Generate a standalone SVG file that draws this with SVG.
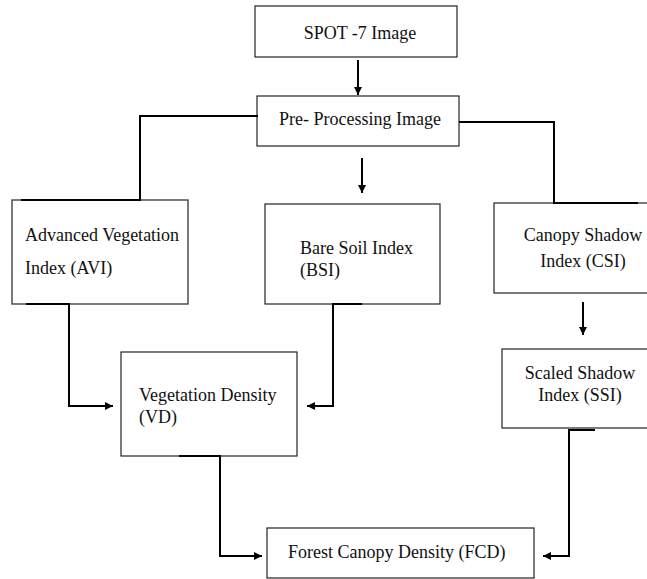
<svg xmlns="http://www.w3.org/2000/svg" width="647" height="579" viewBox="0 0 647 579">
<defs>
<marker id="ah" viewBox="0 0 10 10" refX="10" refY="5" markerWidth="4.5" markerHeight="4" markerUnits="strokeWidth" orient="auto">
<path d="M0,0 L10,5 L0,10 z" fill="#000"/>
</marker>
</defs>
<style>
.box{fill:#fff;stroke:#222;stroke-width:1.2}
.t{font-family:"Liberation Serif","Times New Roman",serif;font-size:18px;fill:#111}
.c{fill:none;stroke:#000;stroke-width:2}
.a{fill:none;stroke:#000;stroke-width:2;marker-end:url(#ah)}
</style>
<rect width="647" height="579" fill="#fff"/>
<g id="spot"><rect class="box" x="255" y="6" width="202" height="51"/><text class="t" x="360" y="39" text-anchor="middle">SPOT -7 Image</text></g>
<g id="pre"><rect class="box" x="257" y="96" width="202" height="50"/><text class="t" x="279" y="125">Pre- Processing Image</text></g>
<g id="avi"><rect class="box" x="12" y="200" width="176" height="104"/><text class="t" x="25" y="241">Advanced Vegetation</text><text class="t" x="25" y="274">Index (AVI)</text></g>
<g id="bsi"><rect class="box" x="265" y="204" width="175" height="100"/><text class="t" x="300" y="254">Bare Soil Index</text><text class="t" x="300" y="276">(BSI)</text></g>
<g id="csi"><rect class="box" x="494" y="203" width="160" height="90"/><text class="t" x="583" y="241" text-anchor="middle">Canopy Shadow</text><text class="t" x="583" y="267" text-anchor="middle">Index (CSI)</text></g>
<g id="ssi"><rect class="box" x="502" y="349" width="152" height="79"/><text class="t" x="580" y="379" text-anchor="middle">Scaled Shadow</text><text class="t" x="580" y="401" text-anchor="middle">Index (SSI)</text></g>
<g id="vd"><rect class="box" x="121" y="352" width="176" height="104"/><text class="t" x="139" y="401">Vegetation Density</text><text class="t" x="139" y="423">(VD)</text></g>
<g id="fcd"><rect class="box" x="267" y="528" width="267" height="50"/><text class="t" x="288" y="558">Forest Canopy Density (FCD)</text></g>
<g id="connectors">
<line class="a" x1="358" y1="60" x2="358" y2="95"/>
<polyline class="c" points="258,116 140,116 140,200 21,200"/>
<line class="a" x1="362" y1="158" x2="362" y2="193"/>
<polyline class="c" points="459,122 554,122 554,203 638,203"/>
<line class="a" x1="583" y1="302" x2="583" y2="335"/>
<polyline class="a" points="26,304 69,304 69,406 113,406"/>
<polyline class="a" points="362,304 333,304 333,406 307,406"/>
<polyline class="a" points="179,456 220,456 220,556 262,556"/>
<polyline class="a" points="595,430 569,430 569,556 543,556"/>
</g>
</svg>
